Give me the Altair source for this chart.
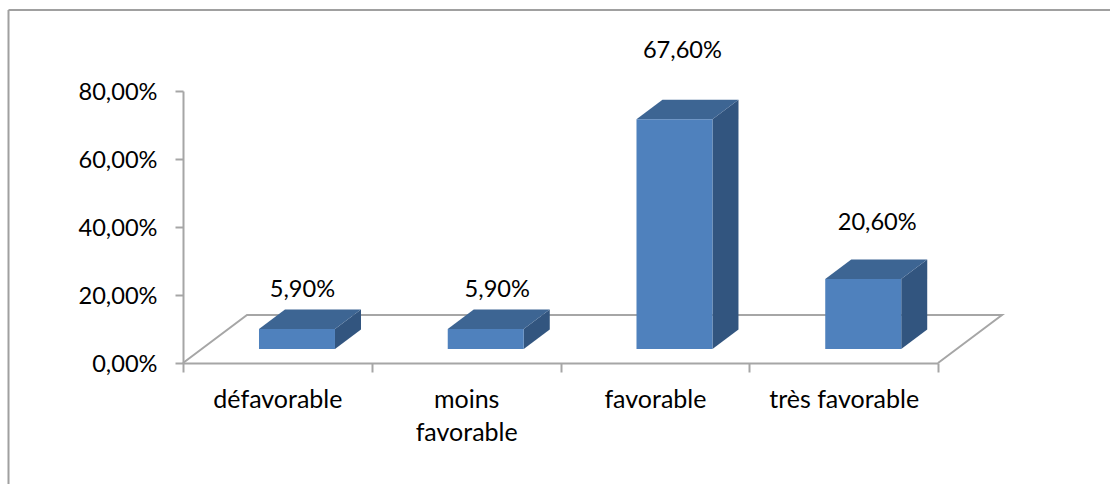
import json
import altair as alt
import pandas as pd

# Chart values (percent of responses per opinion class)
categories = ["défavorable", "moins favorable", "favorable", "très favorable"]
axis_labels = [["défavorable"], ["moins", "favorable"], ["favorable"], ["très favorable"]]
values = [5.9, 5.9, 67.6, 20.6]
# Hand placement of the value labels relative to their columns
# (lift in percentage points, shift in category slots)
label_lift = [15.7, 15.7, 24.2, 20.6]
label_shift = [0.029, 0.061, 0.042, 0.074]

FONT = "Lato"
NUMBER_SIZE = 23.6
CATEGORY_SIZE = 25
AXIS_GRAY = "#A6A6A6"
FRONT = "#4F81BD"
TOP = "#3D6593"
SIDE = "#32557F"

# Oblique projection, expressed in axis units (x: category slots, y: percent)
FLOOR_DX, FLOOR_DY = 0.339, 14.1
BAR_LIFT = 4.12
BAR_START, BAR_WIDTH = 0.4026, 0.4026
DEPTH_DX, DEPTH_DY = 0.1377, 5.7

front_rows, top_rows, side_rows, label_rows = [], [], [], []
for i, (cat, v, lift, shift) in enumerate(zip(categories, values, label_lift, label_shift)):
    x0 = i + BAR_START
    x1 = x0 + BAR_WIDTH
    y0 = BAR_LIFT
    y1 = BAR_LIFT + v
    front_rows.append({"x": x0, "x2": x1, "y": y0, "y2": y1})
    top_rows += [
        {"bar": cat, "y": y1, "x": x0, "x2": x1},
        {"bar": cat, "y": y1 + DEPTH_DY, "x": x0 + DEPTH_DX, "x2": x1 + DEPTH_DX},
    ]
    side_rows += [
        {"bar": cat, "x": x1, "y": y0, "y2": y1},
        {"bar": cat, "x": x1 + DEPTH_DX, "y": y0 + DEPTH_DY, "y2": y1 + DEPTH_DY},
    ]
    label_rows.append(
        {
            "x": (x0 + x1) / 2 + shift,
            "y": v + lift,
            "text": f"{v:.2f}".replace(".", ",") + "%",
        }
    )

floor_rows = [
    {"o": 0, "x": 0, "y": 0},
    {"o": 1, "x": FLOOR_DX, "y": FLOOR_DY},
    {"o": 2, "x": 4 + FLOOR_DX, "y": FLOOR_DY},
    {"o": 3, "x": 4, "y": 0},
]

x_scale = alt.Scale(domain=[0, 4], nice=False, zero=False)
y_scale = alt.Scale(domain=[0, 80], nice=False, zero=False)

x_label_expr = f"{json.dumps(axis_labels, ensure_ascii=False)}[datum.value] || ''"

x_axis = alt.Axis(
    values=[0, 1, 2, 3, 4],
    title=None,
    grid=False,
    labelExpr=x_label_expr,
    labelOffset=94.4,
    labelFont=FONT,
    labelFontSize=CATEGORY_SIZE,
    labelColor="black",
    labelPadding=15,
    labelLineHeight=33,
    labelBound=False,
    labelFlush=False,
    labelOverlap=False,
    labelAngle=0,
    domainColor=AXIS_GRAY,
    domainWidth=2,
    tickColor=AXIS_GRAY,
    tickWidth=2,
    tickSize=9,
)
y_axis = alt.Axis(
    values=[0, 20, 40, 60, 80],
    title=None,
    grid=False,
    labelExpr="replace(format(datum.value, '.2f'), '.', ',') + '%'",
    labelFont=FONT,
    labelFontSize=NUMBER_SIZE,
    labelColor="black",
    labelPadding=18,
    labelOffset=1.5,
    domainColor=AXIS_GRAY,
    domainWidth=2,
    tickColor=AXIS_GRAY,
    tickWidth=2,
    tickSize=8,
)

floor = (
    alt.Chart(pd.DataFrame(floor_rows))
    .mark_line(color=AXIS_GRAY, strokeWidth=2)
    .encode(
        x=alt.X("x:Q", scale=x_scale, axis=x_axis),
        y=alt.Y("y:Q", scale=y_scale, axis=y_axis),
        order="o:Q",
    )
)

side = (
    alt.Chart(pd.DataFrame(side_rows))
    .mark_area(color=SIDE, orient="vertical")
    .encode(
        x=alt.X("x:Q", scale=x_scale),
        y=alt.Y("y:Q", scale=y_scale),
        y2="y2:Q",
        detail="bar:N",
    )
)

top = (
    alt.Chart(pd.DataFrame(top_rows))
    .mark_area(color=TOP, orient="horizontal")
    .encode(
        y=alt.Y("y:Q", scale=y_scale),
        x=alt.X("x:Q", scale=x_scale),
        x2="x2:Q",
        detail="bar:N",
    )
)

front = (
    alt.Chart(pd.DataFrame(front_rows))
    .mark_rect(color=FRONT)
    .encode(
        x=alt.X("x:Q", scale=x_scale),
        x2="x2:Q",
        y=alt.Y("y:Q", scale=y_scale),
        y2="y2:Q",
    )
)

value_labels = (
    alt.Chart(pd.DataFrame(label_rows))
    .mark_text(font=FONT, fontSize=NUMBER_SIZE, color="black", align="center", baseline="middle")
    .encode(
        x=alt.X("x:Q", scale=x_scale),
        y=alt.Y("y:Q", scale=y_scale),
        text="text:N",
    )
)

# Outer chart border: only its left and top edges are in view
frame_left = alt.Chart(pd.DataFrame({"a": [0]})).mark_rule(color="#A0A0A0", strokeWidth=2).encode(
    x=alt.value(-174.5), y=alt.value(-81), y2=alt.value(393)
)
frame_top = alt.Chart(pd.DataFrame({"a": [0]})).mark_rule(color="#A0A0A0", strokeWidth=2).encode(
    x=alt.value(-174.5), x2=alt.value(927), y=alt.value(-81)
)

chart = (
    alt.layer(frame_left, frame_top, floor, side, top, front, value_labels)
    .properties(
        width=755,
        height=272,
        padding={"left": 183, "top": 91, "right": 172, "bottom": 121},
        autosize=alt.AutoSizeParams(type="none"),
        background="white",
    )
    .configure_view(stroke=None)
)

chart.save("out.html", embed_options={"renderer": "svg", "actions": False})
